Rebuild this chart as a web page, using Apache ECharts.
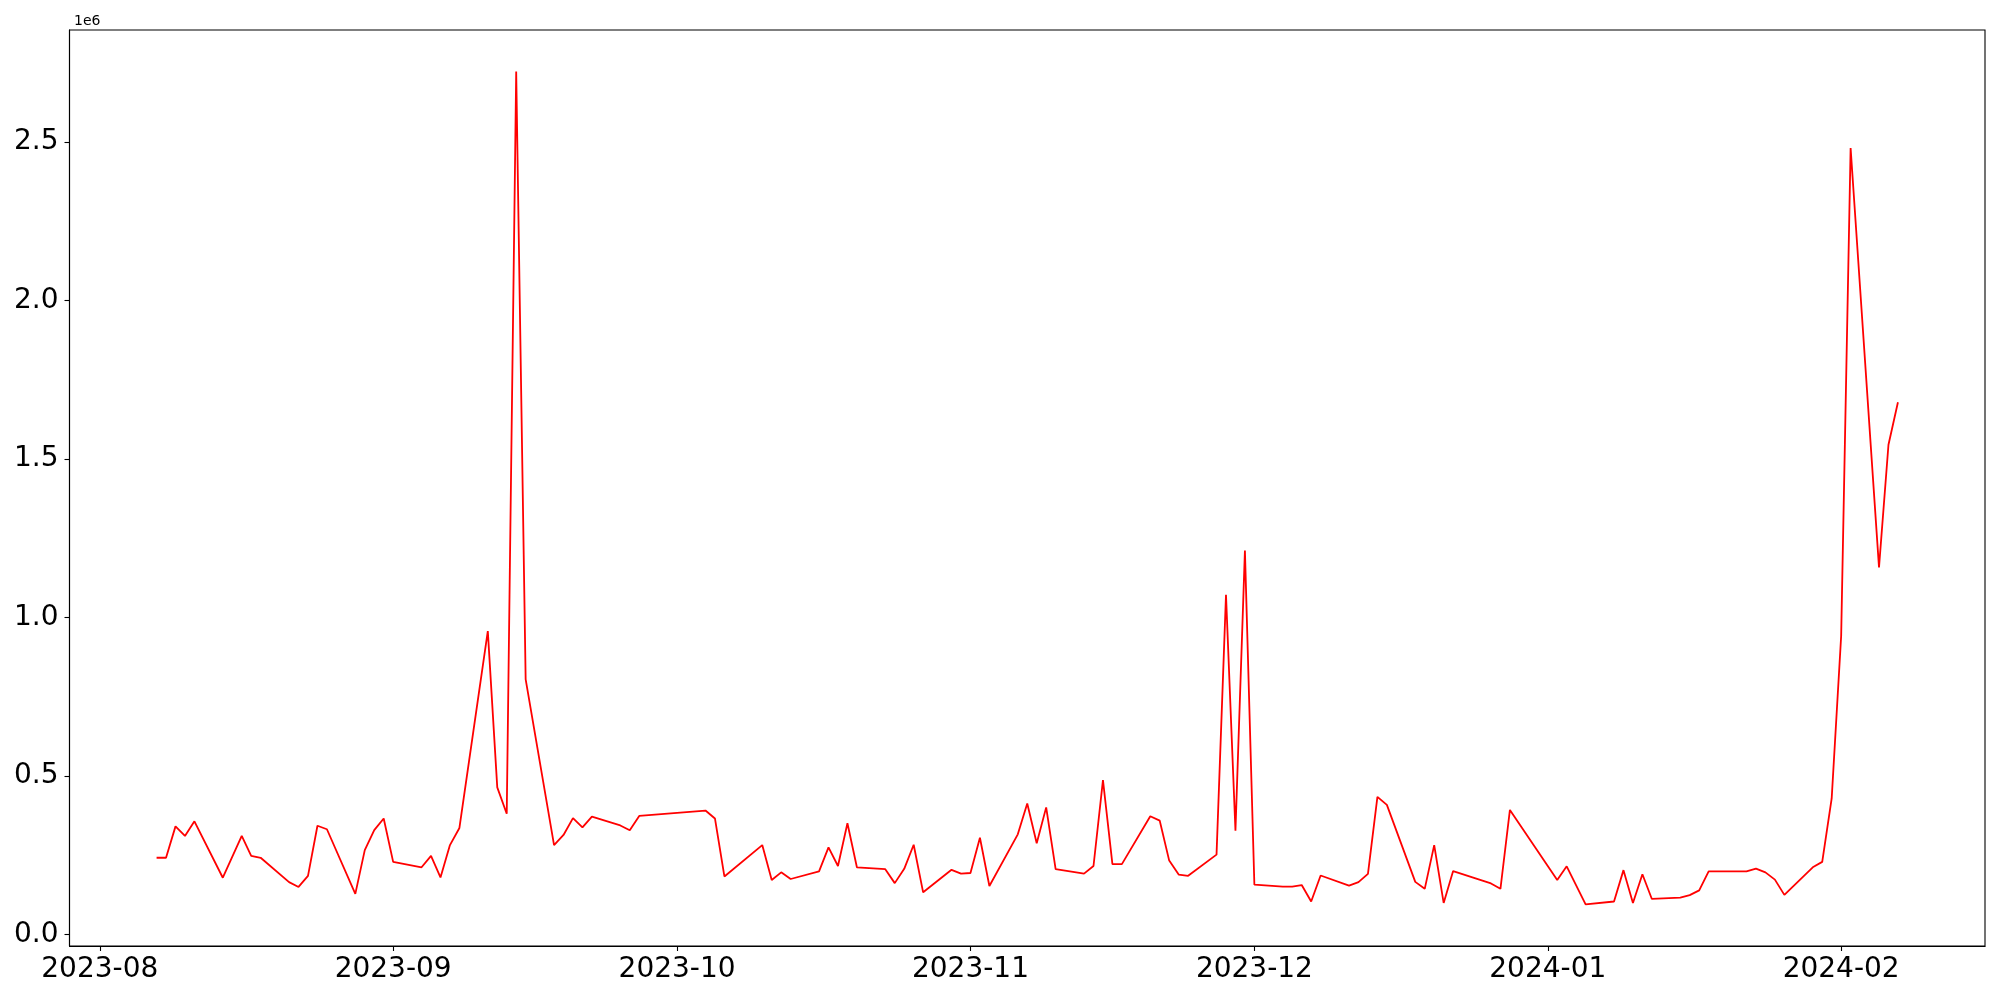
<!DOCTYPE html>
<html>
<head>
<meta charset="utf-8">
<script src="https://cdn.jsdelivr.net/npm/echarts@6/dist/echarts.min.js"></script>
<style>
html,body{margin:0;padding:0;background:#fff;}
#chart{width:2000px;height:1000px;}
</style>
</head>
<body>
<div id="chart"></div>
<script>
// ---- Data ----
const dates = [
  '2023-08-07','2023-08-08','2023-08-09','2023-08-10','2023-08-11','2023-08-14','2023-08-16','2023-08-17','2023-08-18',
  '2023-08-21','2023-08-22','2023-08-23','2023-08-24','2023-08-25','2023-08-28','2023-08-29','2023-08-30','2023-08-31',
  '2023-09-01','2023-09-04','2023-09-05','2023-09-06','2023-09-07','2023-09-08','2023-09-11','2023-09-12','2023-09-13',
  '2023-09-14','2023-09-15','2023-09-18','2023-09-19','2023-09-20','2023-09-21','2023-09-22','2023-09-25','2023-09-26',
  '2023-09-27','2023-10-04','2023-10-05','2023-10-06','2023-10-10','2023-10-11','2023-10-12','2023-10-13','2023-10-16',
  '2023-10-17','2023-10-18','2023-10-19','2023-10-20','2023-10-23','2023-10-24','2023-10-25','2023-10-26','2023-10-27',
  '2023-10-30','2023-10-31','2023-11-01','2023-11-02','2023-11-03','2023-11-06','2023-11-07','2023-11-08','2023-11-09',
  '2023-11-10','2023-11-13','2023-11-14','2023-11-15','2023-11-16','2023-11-17','2023-11-20','2023-11-21','2023-11-22',
  '2023-11-23','2023-11-24','2023-11-27','2023-11-28','2023-11-29','2023-11-30','2023-12-01','2023-12-04','2023-12-05',
  '2023-12-06','2023-12-07','2023-12-08','2023-12-11','2023-12-12','2023-12-13','2023-12-14','2023-12-15','2023-12-18',
  '2023-12-19','2023-12-20','2023-12-21','2023-12-22','2023-12-26','2023-12-27','2023-12-28','2024-01-02','2024-01-03',
  '2024-01-05','2024-01-08','2024-01-09','2024-01-10','2024-01-11','2024-01-12','2024-01-15','2024-01-16','2024-01-17',
  '2024-01-18','2024-01-22','2024-01-23','2024-01-24','2024-01-25','2024-01-26','2024-01-29','2024-01-30','2024-01-31',
  '2024-02-01','2024-02-02','2024-02-05','2024-02-06','2024-02-07'
];
const values = [
  242000,242000,341000,311000,357000,179000,311000,248000,242000,
  165000,150000,185000,343000,332000,128000,266000,329000,366000,
  229000,212000,248000,180000,282000,336000,957000,464000,381000,
  2722000,805000,282000,314000,367000,338000,372000,344000,329000,
  374000,391000,366000,183000,282000,172000,196000,175000,199000,
  275000,216000,351000,212000,206000,162000,207000,283000,133000,
  204000,192000,194000,305000,153000,316000,413000,288000,401000,
  206000,192000,216000,487000,222000,222000,373000,359000,233000,
  189000,185000,252000,1072000,327000,1211000,157000,151000,151000,
  156000,104000,186000,154000,165000,191000,434000,409000,166000,
  144000,282000,99500,200000,161000,144000,393000,172000,215000,
  95000,104000,203000,99500,190000,112000,116000,124000,139000,
  199000,199000,208000,196000,173000,125000,212000,229000,429000,
  941000,2481000,1158000,1545000,1679000
];
const xTickDates = ['2023-08-01','2023-09-01','2023-10-01','2023-11-01','2023-12-01','2024-01-01','2024-02-01'];
const yTicks = [0, 500000, 1000000, 1500000, 2000000, 2500000];
const offsetText = '1e6';

// ---- Build ----
function ts(s){ const p = s.split('-').map(Number); return Date.UTC(p[0], p[1]-1, p[2]); }
const seriesData = dates.map((d,i)=>[ts(d), values[i]]);
const xs = seriesData.map(p=>p[0]);
const xMinD = Math.min(...xs), xMaxD = Math.max(...xs);
const xPad = (xMaxD - xMinD) * 0.05;
const yMinD = Math.min(...values), yMaxD = Math.max(...values);
const yPad = (yMaxD - yMinD) * 0.05;
const xTickVals = xTickDates.map(ts);
const FONT = 'DejaVu Sans';

const chart = echarts.init(document.getElementById('chart'), null, {renderer:'canvas'});
chart.setOption({
  animation: false,
  backgroundColor: '#ffffff',
  title: {
    text: offsetText, left: 69, top: 9,
    textStyle: {fontFamily: FONT, fontSize: 14, fontWeight: 'normal', color: '#000'}
  },
  grid: {
    left: 69.5, right: 15, top: 30, bottom: 54,
    show: true, borderColor: '#000', borderWidth: 1.1, backgroundColor: 'transparent'
  },
  xAxis: {
    type: 'value',
    min: xMinD - xPad, max: xMaxD + xPad,
    axisLine: {show: true, onZero: false, lineStyle: {color: '#000', width: 1.1}},
    axisTick: {show: true, length: 5, lineStyle: {color: '#000', width: 1.1}, customValues: xTickVals},
    axisLabel: {
      customValues: xTickVals, margin: 10, fontFamily: FONT, fontSize: 28, color: '#000',
      showMinLabel: true, showMaxLabel: true,
      formatter: function(v){ const d = new Date(v); return d.getUTCFullYear() + '-' + String(d.getUTCMonth()+1).padStart(2,'0'); }
    },
    splitLine: {show: false}
  },
  yAxis: {
    type: 'value',
    min: yMinD - yPad, max: yMaxD + yPad,
    axisLine: {show: true, lineStyle: {color: '#000', width: 1.1}},
    axisTick: {show: true, length: 5, lineStyle: {color: '#000', width: 1.1}, customValues: yTicks},
    axisLabel: {
      customValues: yTicks, margin: 11, fontFamily: FONT, fontSize: 28, color: '#000',
      padding: [9, 0, 0, 0],
      formatter: function(v){ return (v/1e6).toFixed(1); }
    },
    splitLine: {show: false}
  },
  series: [{
    type: 'line',
    data: seriesData,
    showSymbol: false,
    symbol: 'none',
    lineStyle: {color: '#ff0000', width: 1.8},
    itemStyle: {color: '#ff0000'}
  }]
});
</script>
</body>
</html>
